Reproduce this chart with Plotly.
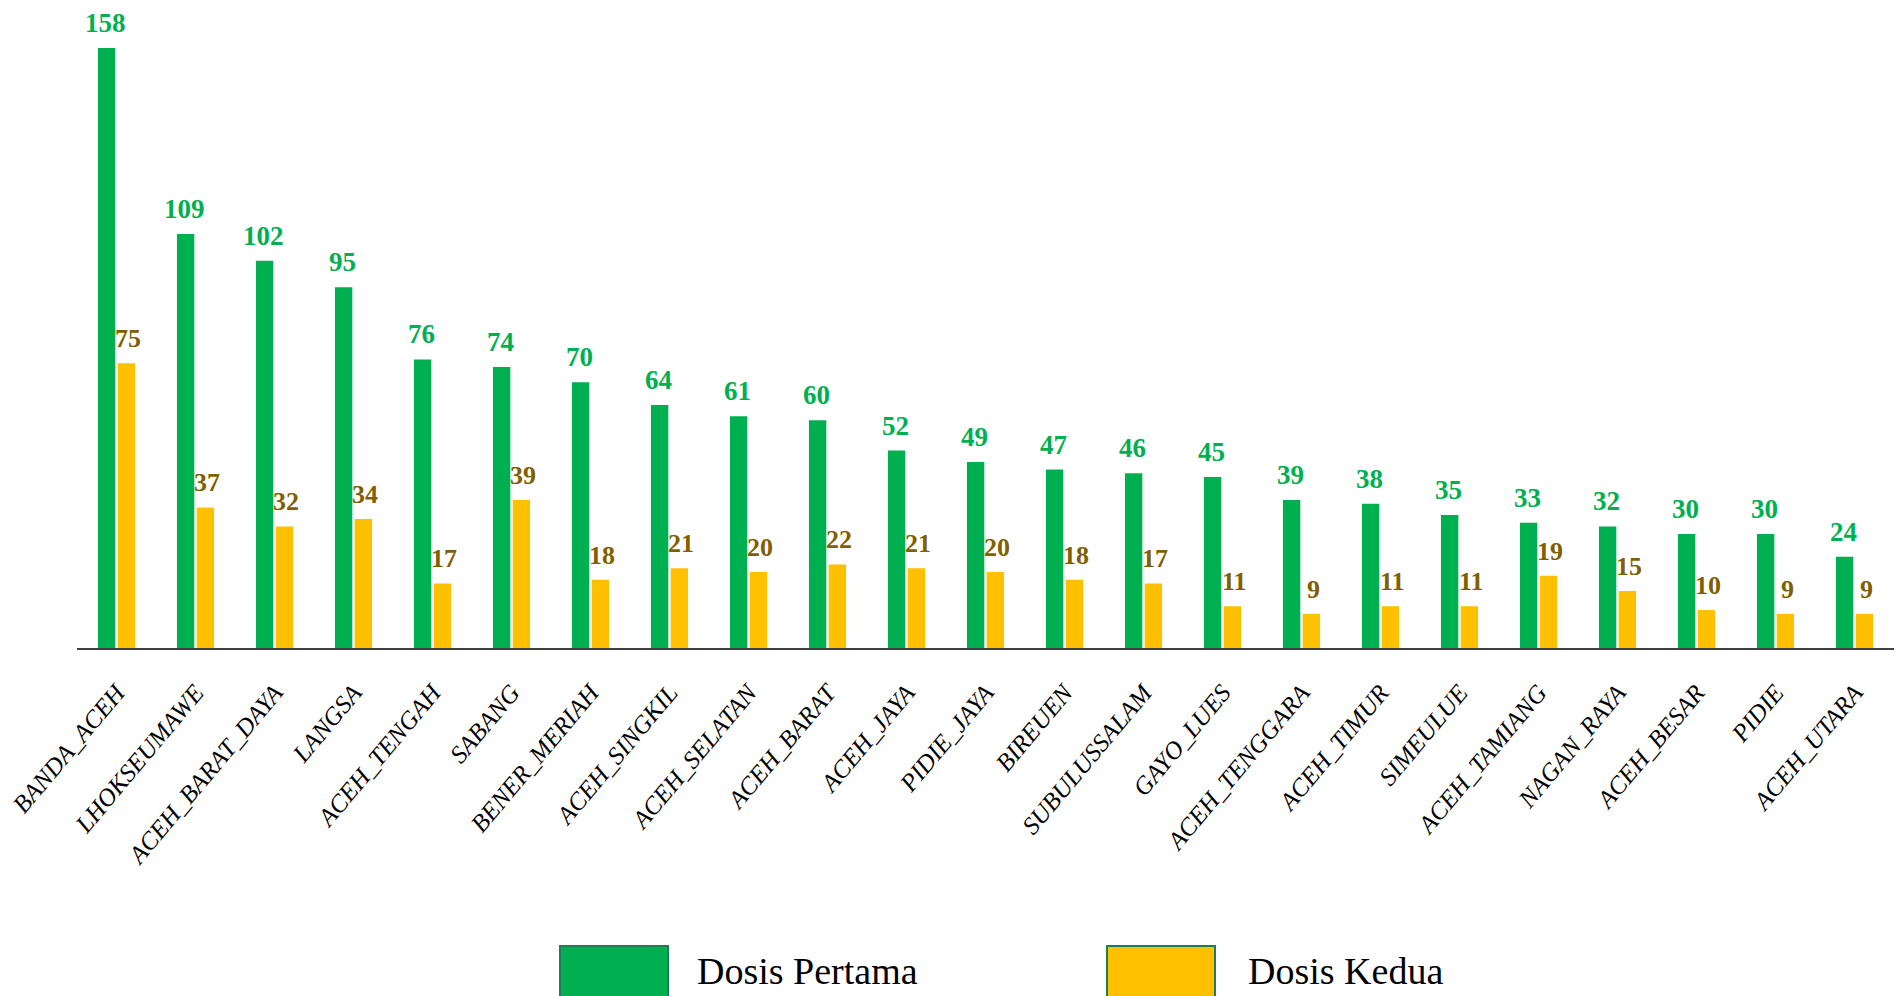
import plotly.graph_objects as go

categories = ["BANDA_ACEH", "LHOKSEUMAWE", "ACEH_BARAT_DAYA", "LANGSA", "ACEH_TENGAH",
              "SABANG", "BENER_MERIAH", "ACEH_SINGKIL", "ACEH_SELATAN", "ACEH_BARAT",
              "ACEH_JAYA", "PIDIE_JAYA", "BIREUEN", "SUBULUSSALAM", "GAYO_LUES",
              "ACEH_TENGGARA", "ACEH_TIMUR", "SIMEULUE", "ACEH_TAMIANG", "NAGAN_RAYA",
              "ACEH_BESAR", "PIDIE", "ACEH_UTARA"]
dosis_pertama = [158, 109, 102, 95, 76, 74, 70, 64, 61, 60, 52, 49, 47, 46, 45,
                 39, 38, 35, 33, 32, 30, 30, 24]
dosis_kedua = [75, 37, 32, 34, 17, 39, 18, 21, 20, 22, 21, 20, 18, 17, 11,
               9, 11, 11, 19, 15, 10, 9, 9]
series_names = ["Dosis Pertama", "Dosis Kedua"]

GREEN = "#00B050"
YELLOW = "#FFC000"
GREEN_TXT = "#00B050"
YELLOW_TXT = "#7F6000"
FONT = "Liberation Serif"

W, H = 1895, 996
L, R, T = 77, 1, 0
PLOT_BOTTOM = 648
B = H - PLOT_BOTTOM
PW, PH = W - L - R, PLOT_BOTTOM - T
PX_PER_UNIT = 600 / 158.0
YMAX = PH / PX_PER_UNIT

fig = go.Figure()
fig.add_trace(go.Bar(x=categories, y=dosis_pertama, name=series_names[0],
                     marker=dict(color=GREEN, line=dict(width=0)), showlegend=False))
fig.add_trace(go.Bar(x=categories, y=dosis_kedua, name=series_names[1],
                     marker=dict(color=YELLOW, line=dict(width=0)), showlegend=False))

annotations = []
for c, v1, v2 in zip(categories, dosis_pertama, dosis_kedua):
    annotations.append(dict(x=c, y=v1, xref="x", yref="y", text=str(v1), showarrow=False,
                            xshift=-11.5, yshift=9, yanchor="bottom", borderpad=0,
                            font=dict(family=FONT, size=27, color=GREEN_TXT, weight="bold")))
    annotations.append(dict(x=c, y=v2, xref="x", yref="y", text=str(v2), showarrow=False,
                            xshift=11.5, yshift=9, yanchor="bottom", borderpad=0,
                            font=dict(family=FONT, size=26, color=YELLOW_TXT, weight="bold")))

def px_x(p):
    return (p - L) / PW

def px_y(p):
    return (PLOT_BOTTOM - p) / PH

shapes = []
legend_items = [(series_names[0], GREEN, 560, 668, 696), (series_names[1], YELLOW, 1107, 1215, 1247)]
for name, col, x0, x1, tx in legend_items:
    shapes.append(dict(type="rect", xref="paper", yref="paper",
                       x0=px_x(x0), x1=px_x(x1), y0=px_y(1010), y1=px_y(946),
                       fillcolor=col, line=dict(color="#1E7B5C", width=2), layer="above"))
    annotations.append(dict(x=px_x(tx), y=px_y(971), xref="paper", yref="paper", text=name,
                            showarrow=False, xanchor="left", yanchor="middle", borderpad=0,
                            font=dict(family=FONT, size=38, color="#000000")))

fig.update_layout(
    width=W, height=H,
    margin=dict(l=L, r=R, t=T, b=B, pad=0),
    paper_bgcolor="white", plot_bgcolor="white",
    barmode="group", bargap=0.5, bargroupgap=0.12,
    xaxis=dict(showline=True, linecolor="#404040", linewidth=2, ticks="",
               tickangle=-50, ticklabelstandoff=18,
               tickfont=dict(family=FONT, size=25, color="#000000", style="italic"),
               showgrid=False, zeroline=False),
    yaxis=dict(range=[0, YMAX], visible=False, showgrid=False, zeroline=False),
    annotations=annotations, shapes=shapes,
    showlegend=False,
)

fig.write_html("out.html", config={"displayModeBar": False},
               post_script="document.body.style.margin='0';document.body.style.overflow='hidden';")
